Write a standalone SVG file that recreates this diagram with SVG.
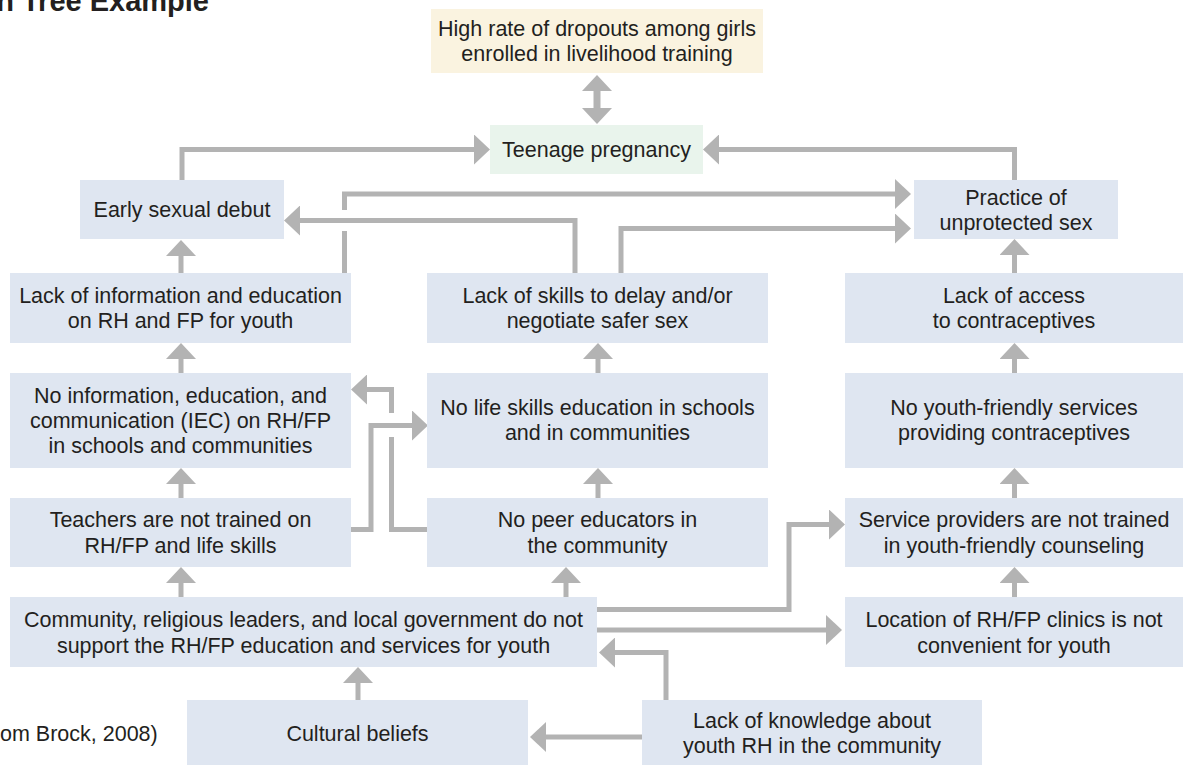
<svg xmlns="http://www.w3.org/2000/svg" width="1183" height="765" viewBox="0 0 1183 765">
  <style>
    .box { fill: #dfe6f1; }
    .top { fill: #faf3e0; }
    .core { fill: #e9f4ec; }
    text { font-family: "Liberation Sans", Arial, sans-serif; font-size: 21.5px; fill: #231f20; text-anchor: middle; }
    .title { font-size: 29px; font-weight: bold; text-anchor: end; }
    .note { text-anchor: start; }
    .link { fill: none; stroke: #b3b3b3; stroke-width: 5; }
    .arr { marker-end: url(#head); }
  </style>
  <defs>
    <marker id="head" viewBox="0 0 16 30" refX="1" refY="15" markerWidth="16" markerHeight="30" markerUnits="userSpaceOnUse" orient="auto-start-reverse">
      <path d="M0,0 L16,15 L0,30 Z" fill="#b3b3b3"/>
    </marker>
  </defs>

  <rect width="1183" height="765" fill="#ffffff"/>

  <text class="title" x="209" y="11">n Tree Example</text>
  <text class="note" x="0" y="741">om Brock, 2008)</text>

  <!-- connectors -->
  <g id="connectors">
    <!-- double arrow between outcome and core problem -->
    <path class="link arr" d="M597,90 V109" marker-start="url(#head)" style="stroke-width:7"/>
    <!-- into Teenage pregnancy -->
    <path class="link arr" d="M182,180 V149.5 H475"/>
    <path class="link arr" d="M1014.5,180 V149.5 H718"/>
    <!-- Lack of information -> Practice (with bridge gap) -->
    <path class="link" d="M344.5,273 V231"/>
    <path class="link arr" d="M344.5,210 V194 H896"/>
    <!-- Lack of skills -> Early sexual debut -->
    <path class="link arr" d="M575,273 V220.5 H299"/>
    <!-- Lack of skills -> Practice -->
    <path class="link arr" d="M621,273 V228.5 H896"/>
    <!-- vertical chains, left column -->
    <path class="link arr" d="M181,273 V255"/>
    <path class="link arr" d="M181,373 V358"/>
    <path class="link arr" d="M181,498 V483"/>
    <path class="link arr" d="M181,597 V582"/>
    <!-- Cultural beliefs -> Community -->
    <path class="link arr" d="M358,700 V682"/>
    <!-- middle column -->
    <path class="link arr" d="M598,373 V358"/>
    <path class="link arr" d="M598,498 V483"/>
    <path class="link arr" d="M566,597 V582"/>
    <!-- right column -->
    <path class="link arr" d="M1014.5,273 V254"/>
    <path class="link arr" d="M1014.5,373 V358"/>
    <path class="link arr" d="M1014.5,498 V483"/>
    <path class="link arr" d="M1014.5,597 V582"/>
    <!-- Teachers -> No life skills -->
    <path class="link arr" d="M351,529.5 H371 V425.5 H413"/>
    <!-- No peer educators -> No IEC (with bridge gap) -->
    <path class="link" d="M427,529.5 H391.5 V437"/>
    <path class="link arr" d="M391.5,413 V389.5 H366"/>
    <!-- Community -> Service providers -->
    <path class="link arr" d="M597,609.5 H789 V524.5 H830"/>
    <!-- Community -> Location -->
    <path class="link arr" d="M597,630 H827"/>
    <!-- Lack of knowledge -> Community -->
    <path class="link arr" d="M666,700 V652.5 H614"/>
    <!-- Lack of knowledge -> Cultural beliefs -->
    <path class="link arr" d="M642,737 H545"/>
  </g>

  <g id="n-dropouts">
    <rect class="top" x="431" y="9" width="332" height="64"/>
    <text x="597" y="36">High rate of dropouts among girls</text>
    <text x="597" y="61">enrolled in livelihood training</text>
  </g>
  <g id="n-teen">
    <rect class="core" x="490" y="125" width="213" height="49"/>
    <text x="596.5" y="157">Teenage pregnancy</text>
  </g>
  <g id="n-early">
    <rect class="box" x="80" y="180" width="204" height="59"/>
    <text x="182" y="217">Early sexual debut</text>
  </g>
  <g id="n-practice">
    <rect class="box" x="914" y="180" width="204" height="59"/>
    <text x="1016" y="205">Practice of</text>
    <text x="1016" y="230">unprotected sex</text>
  </g>
  <g id="n-lackinfo">
    <rect class="box" x="10" y="273" width="341" height="70"/>
    <text x="180.5" y="303">Lack of information and education</text>
    <text x="180.5" y="328">on RH and FP for youth</text>
  </g>
  <g id="n-lackskills">
    <rect class="box" x="427" y="273" width="341" height="70"/>
    <text x="597.5" y="303">Lack of skills to delay and/or</text>
    <text x="597.5" y="328">negotiate safer sex</text>
  </g>
  <g id="n-lackaccess">
    <rect class="box" x="845" y="273" width="338" height="70"/>
    <text x="1014" y="303">Lack of access</text>
    <text x="1014" y="328">to contraceptives</text>
  </g>
  <g id="n-noiec">
    <rect class="box" x="10" y="373" width="341" height="95"/>
    <text x="180.5" y="403">No information, education, and</text>
    <text x="180.5" y="428">communication (IEC) on RH/FP</text>
    <text x="180.5" y="453">in schools and communities</text>
  </g>
  <g id="n-nolifeskills">
    <rect class="box" x="427" y="373" width="341" height="95"/>
    <text x="597.5" y="415">No life skills education in schools</text>
    <text x="597.5" y="440">and in communities</text>
  </g>
  <g id="n-noyouth">
    <rect class="box" x="845" y="373" width="338" height="95"/>
    <text x="1014" y="415">No youth-friendly services</text>
    <text x="1014" y="440">providing contraceptives</text>
  </g>
  <g id="n-teachers">
    <rect class="box" x="10" y="498" width="341" height="69"/>
    <text x="180.5" y="527">Teachers are not trained on</text>
    <text x="180.5" y="553">RH/FP and life skills</text>
  </g>
  <g id="n-peer">
    <rect class="box" x="427" y="498" width="341" height="69"/>
    <text x="597.5" y="527">No peer educators in</text>
    <text x="597.5" y="553">the community</text>
  </g>
  <g id="n-providers">
    <rect class="box" x="845" y="498" width="338" height="69"/>
    <text x="1014" y="527">Service providers are not trained</text>
    <text x="1014" y="553">in youth-friendly counseling</text>
  </g>
  <g id="n-community">
    <rect class="box" x="10" y="597" width="587" height="70"/>
    <text x="303.5" y="627">Community, religious leaders, and local government do not</text>
    <text x="303.5" y="653">support the RH/FP education and services for youth</text>
  </g>
  <g id="n-location">
    <rect class="box" x="845" y="597" width="338" height="70"/>
    <text x="1014" y="627">Location of RH/FP clinics is not</text>
    <text x="1014" y="653">convenient for youth</text>
  </g>
  <g id="n-cultural">
    <rect class="box" x="187" y="700" width="341" height="66"/>
    <text x="357.5" y="741">Cultural beliefs</text>
  </g>
  <g id="n-knowledge">
    <rect class="box" x="642" y="700" width="340" height="66"/>
    <text x="812" y="728">Lack of knowledge about</text>
    <text x="812" y="753">youth RH in the community</text>
  </g>
</svg>
